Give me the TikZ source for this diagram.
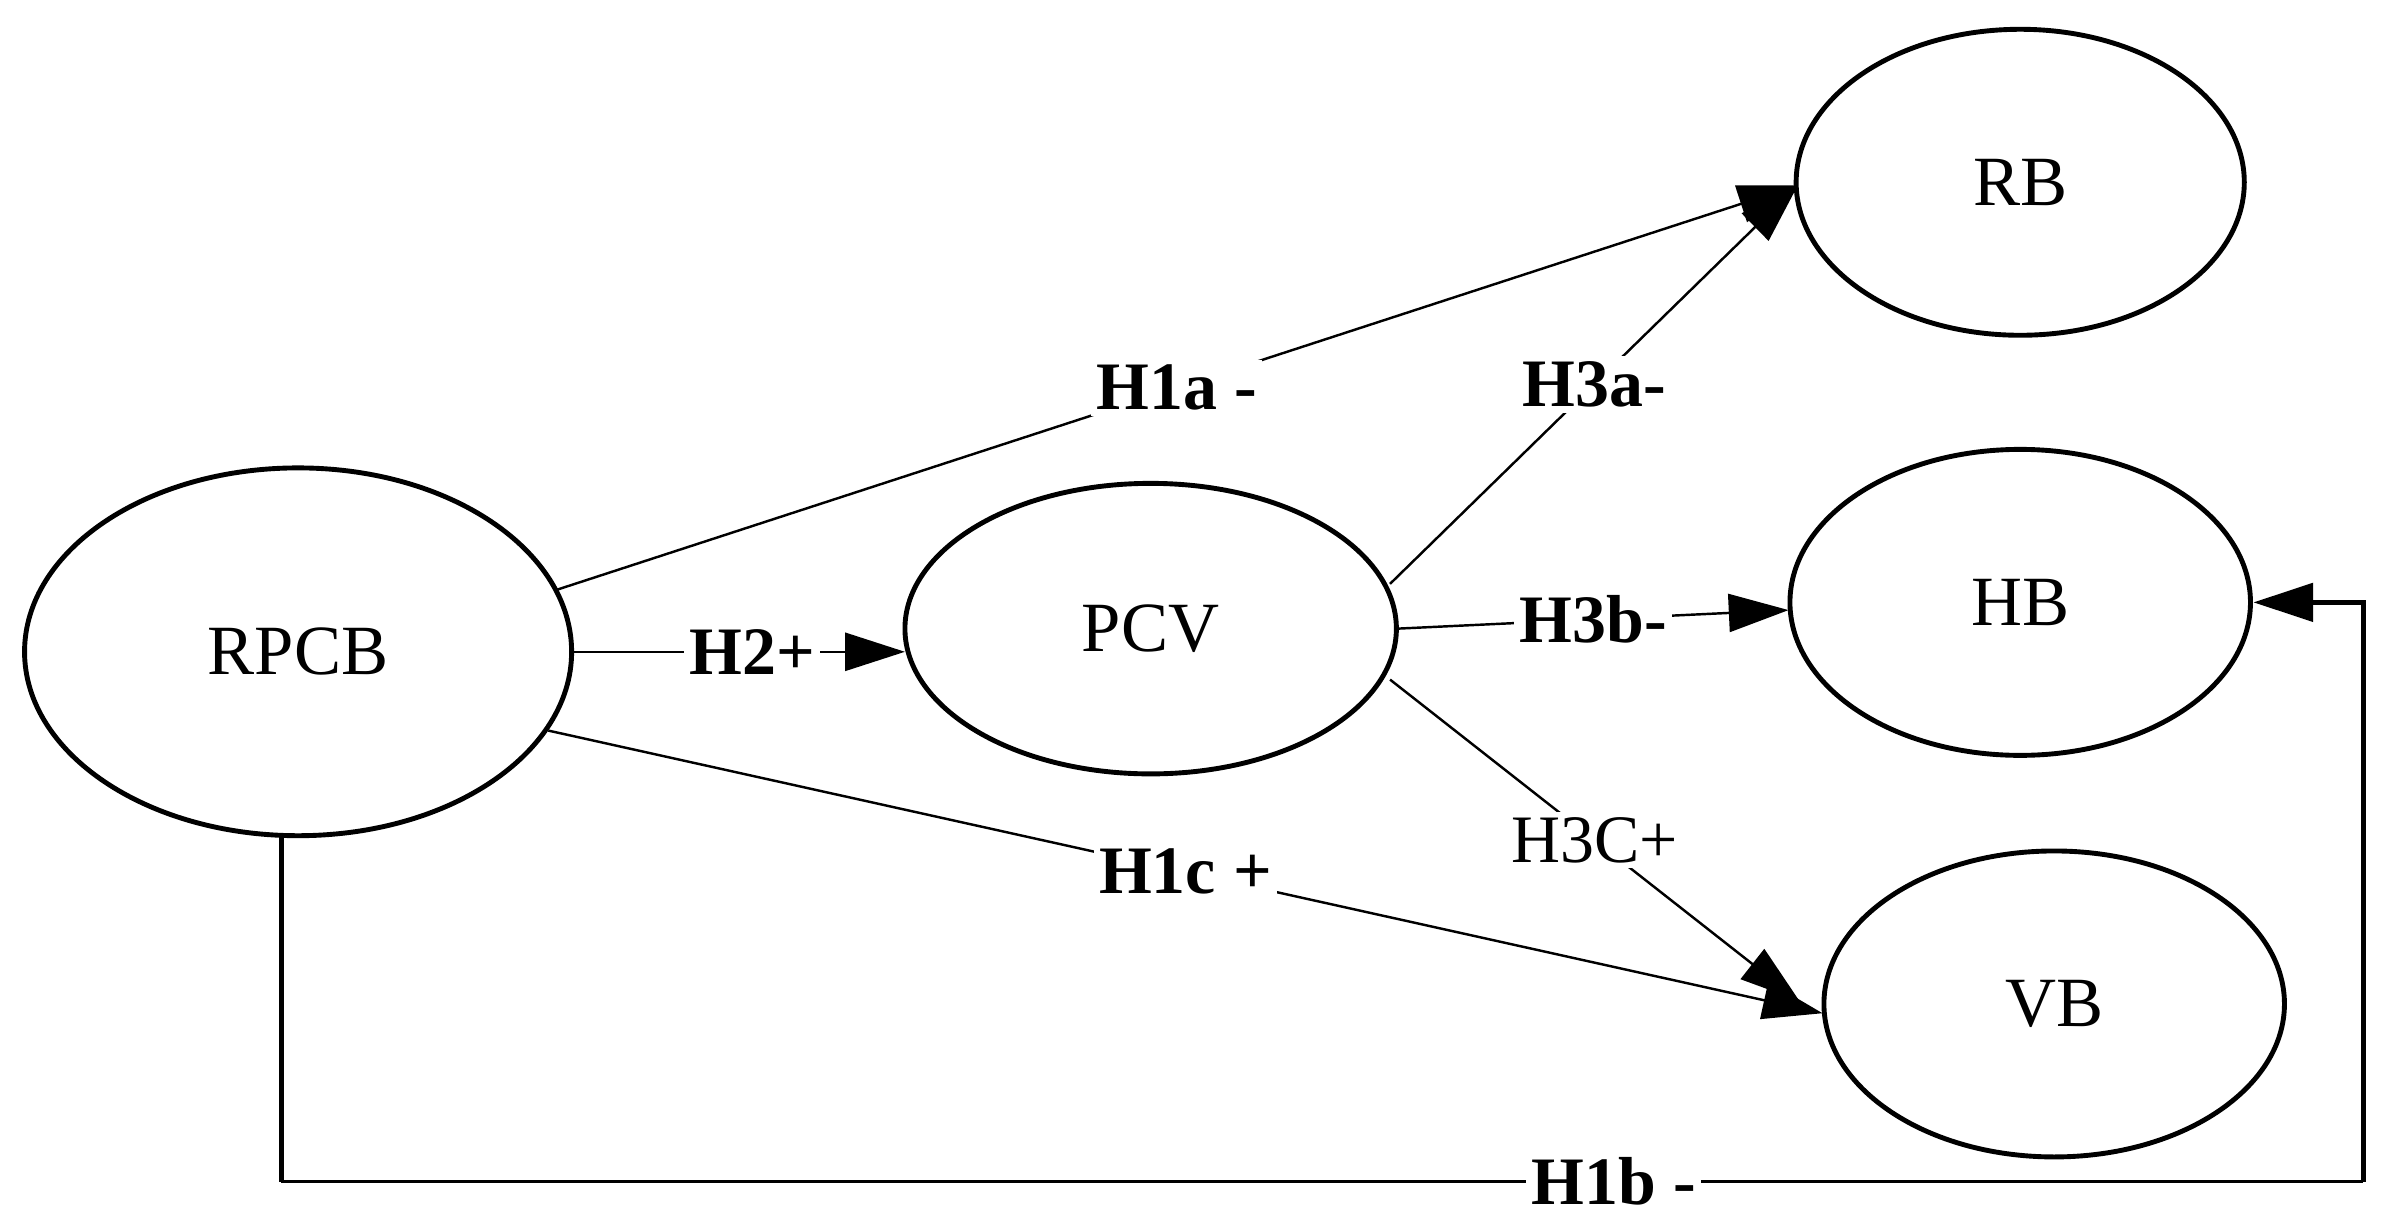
\documentclass[tikz,border=0pt]{standalone}
\usepackage{fontspec}
\setmainfont{Liberation Serif}
\usetikzlibrary{arrows.meta,shapes.geometric}
\begin{document}
\begin{tikzpicture}[x=0.01cm,y=-0.01cm,
  ell/.style={draw,ellipse,inner sep=0pt,outer sep=0pt,line width=0.9pt,font=\fontsize{13}{15}\selectfont},
  edge/.style={line width=0.45pt,-{Triangle[length=11pt,width=7pt]}},
  lab/.style={fill=white,inner sep=1pt,font=\bfseries\fontsize{12.5}{14}\selectfont},
  labn/.style={fill=white,inner sep=1pt,font=\fontsize{12.5}{14}\selectfont}]
\useasboundingbox (0,0) rectangle (1550,796);
\node[ell,minimum width=3.54cm,minimum height=2.38cm] (rpcb) at (193,422) {RPCB};
\node[ell,minimum width=3.18cm,minimum height=1.88cm] (pcv) at (745,407) {PCV};
\node[ell,minimum width=2.9cm,minimum height=1.98cm] (rb) at (1308,118) {RB};
\node[ell,minimum width=2.98cm,minimum height=1.98cm] (hb) at (1308,390) {HB};
\node[ell,minimum width=2.98cm,minimum height=1.98cm] (vb) at (1330,650) {VB};
\coordinate (a1) at (360,382);
\coordinate (a2) at (371,422);
\coordinate (a3) at (355,473);
\coordinate (b1) at (900,378);
\coordinate (b2) at (905,407);
\coordinate (b3) at (900,440);
\coordinate (rbw) at (1164,120);
\coordinate (hbw) at (1158,395);
\coordinate (vbw) at (1180,656);
\coordinate (vbn) at (1165,648);
\coordinate (d0) at (182,542);
\coordinate (d1) at (182,765);
\coordinate (d2) at (1530,765);
\coordinate (d3) at (1530,390);
\coordinate (hbe) at (1459,390);
\draw[edge] (a1) -- node[lab,pos=0.5]{H1a -} (rbw);
\draw[edge] (a2) -- node[lab,pos=0.54]{H2+} (pcv.west|-a2);
\draw[edge] (a3) -- node[lab,pos=0.5]{H1c +} (vbw);
\draw[edge] (b1) -- node[lab,pos=0.5]{H3a-} (rbw);
\draw[edge] (b2) -- node[lab,pos=0.5]{H3b-} (hbw);
\draw[edge] (b3) -- node[labn,pos=0.5]{H3C+} (vbn);
\draw[line width=0.9pt] (d0) -- (d1);
\draw[line width=0.45pt] (d1) -- node[lab,pos=0.64]{H1b -} (d2);
\draw[line width=0.9pt,-{Triangle[length=11pt,width=7pt]}] (d2) -- (d3) -- (hbe);
\end{tikzpicture}
\end{document}
